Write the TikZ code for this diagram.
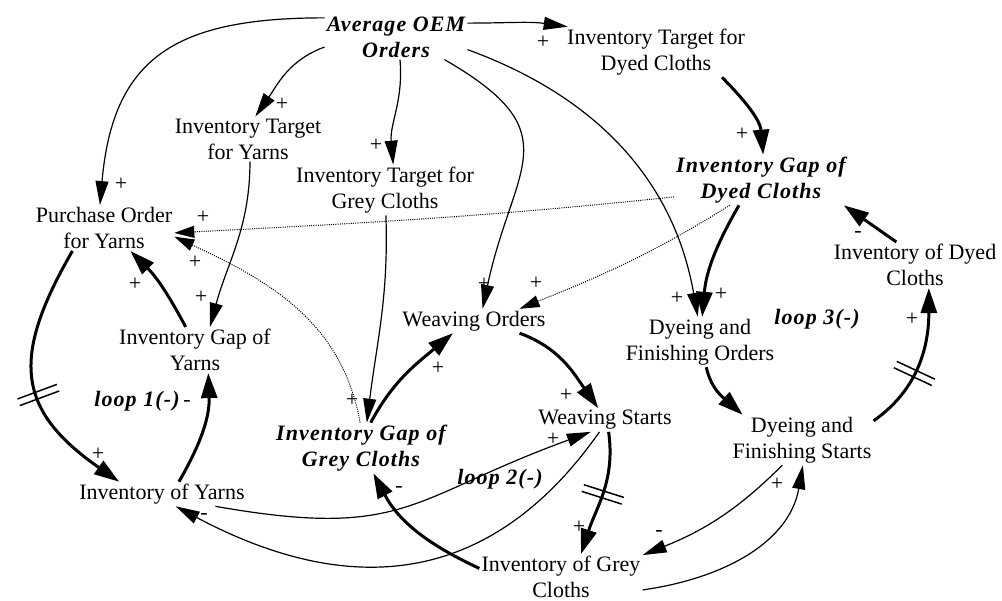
\documentclass[tikz,border=0pt]{standalone}
\usepackage{fontspec}
\setmainfont{Liberation Serif}
\newfontfamily\keyfont[LetterSpace=5]{Liberation Serif}
\usetikzlibrary{arrows.meta,decorations.markings}

\tikzset{
  var/.style={align=center, inner sep=2pt, font=\fontsize{22}{26}\selectfont},
  key/.style={var, font=\keyfont\fontsize{22}{26}\selectfont\bfseries\itshape},
  sign/.style={inner sep=0pt, font=\fontsize{22}{26}\selectfont},
  lnk/.style={line width=1.2pt, -{Triangle[length=24pt,width=13pt]}},
  flow/.style={line width=3pt, -{Triangle[length=25pt,width=16pt]}},
  info/.style={line width=1pt, dash pattern=on 1pt off 1.2pt, -{Triangle[length=20pt,width=12pt]}},
  delaymark/.style={postaction={decorate}, decoration={markings,
    mark=at position #1 with {\draw[-, line width=1.5pt, solid] (-3.5pt,-21pt) -- (-3.5pt,21pt) (3.5pt,-21pt) -- (3.5pt,21pt);}}},
}

\begin{document}
\begin{tikzpicture}[x=1pt, y=-1pt]
    \useasboundingbox (0,0) rectangle (1002,601);

    \node[key] (avg)  at (396,37)  {Average OEM\\Orders};
    \node[var] (itd)  at (656,52)  {Inventory Target for\\Dyed Cloths};
    \node[var] (ity)  at (248,139) {Inventory Target\\for Yarns};
    \node[var] (itg)  at (385,190) {Inventory Target for\\Grey Cloths};
    \node[key] (igd)  at (761,180) {Inventory Gap of\\Dyed Cloths};
    \node[var] (pof)  at (104,228) {Purchase Order\\for Yarns};
    \node[var] (idc)  at (915,265) {Inventory of Dyed\\Cloths};
    \node[var] (igy)  at (195,350) {Inventory Gap of\\Yarns};
    \node[var] (wo)   at (474,321) {Weaving Orders};
    \node[var] (dfo)  at (700,342) {Dyeing and\\Finishing Orders};
    \node[var] (ws)   at (605,420) {Weaving Starts};
    \node[var] (dfs)  at (802,440) {Dyeing and\\Finishing Starts};
    \node[key] (iggc) at (361,448) {Inventory Gap of\\Grey Cloths};
    \node[var] (iy)   at (162,494) {Inventory of Yarns};
    \node[var] (igc)  at (561,577) {Inventory of Grey\\Cloths};

    \node[key] (loopa) at (137,401) {loop 1(-)};
    \node[key] (loopb) at (500,479) {loop 2(-)};
    \node[key] (loopc) at (817,319) {loop 3(-)};

    \draw[lnk] (avg.165) to[out=180,in=85,looseness=1.3] (pof.100);
    \draw[lnk] (avg.188) to[out=200,in=55] (ity.72);
    \draw[lnk] (avg.280) to[out=-85,in=95] (itg.72);
    \draw[lnk] (avg.11) to[out=0,in=172] (itd.164);
    \draw[lnk] (avg.335) to[out=-30,in=78,looseness=1.5] (wo.55);
    \draw[lnk] (avg.350) to[out=-20,in=100] (dfo.95);
    \draw[flow] (itd.339) to[out=-45,in=95] (igd.85);
    \draw[info] (igd.191) to[out=186,in=3] (pof.356);
    \draw[info] (igd.219) to[out=212,in=22] (wo.15);
    \draw[flow] (igd.229) to[out=240,in=85] (dfo.85);
    \draw[flow] (idc.129) -- (igd.343);
    \draw[lnk] (ity.275) to[out=-90,in=75] (igy.57);
    \draw[lnk] (itg.272) to[out=-88,in=83] (iggc.77);
    \draw[flow] (igy.112) to[out=118,in=-45] (pof.319);
    \draw[flow, delaymark=0.56] (pof.216) to[out=240,in=145,looseness=1.35] (iy.164);
    \draw[flow] (iy.36) to[out=60,in=-88] (igy.300);
    \draw[info] (iggc.92) to[out=100,in=-25] (pof.353);
    \draw[flow] (iggc.69) to[out=62,in=220] (wo.210);
    \draw[flow] (wo.345) to[out=-20,in=125] (ws.120);
    \draw[lnk] (iy.347) to[out=-10,in=200,looseness=1.3] (ws.220);
    \draw[lnk] (ws.245) to[out=235,in=-28,looseness=1.15] (iy.318);
    \draw[flow, delaymark=0.5] (ws.287) to[out=-82,in=72] (igc.49);
    \draw[flow] (igc.174) to[out=155,in=-62] (iggc.296);
    \draw[flow] (dfo.284) to[out=-78,in=138] (dfs.157);
    \draw[lnk] (dfs.232) to[out=225,in=22] (igc.15);
    \draw[lnk] (igc.351) to[out=8,in=-100] (dfs.272);
    \draw[flow, delaymark=0.42] (dfs.15) to[out=35,in=-90] (idc.301);

    \foreach \x/\y/\sg [count=\i] in {121/184/+, 282/104/+, 376/145/+, 543/42/+, 484/284/+,
        536/283/+, 677/298/+, 721/294/+, 742/134/+, 203/217/+, 195/262/+, 858/235/-,
        201/297/+, 352/400/+, 135/284/+, 98/454/+, 187/403/-, 438/368/+, 566/395/+,
        553/439/+, 204/516/-, 579/527/+, 399/489/-, 659/533/-, 777/484/+, 912/319/+}
        \node[sign] (s\i) at (\x,\y) {\sg};
\end{tikzpicture}
\end{document}
